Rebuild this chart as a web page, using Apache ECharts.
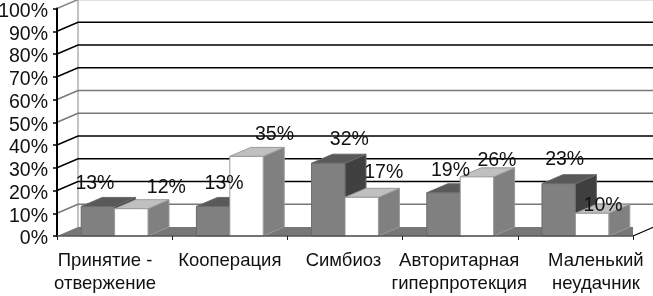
<!DOCTYPE html>
<html><head><meta charset="utf-8">
<style>html,body{margin:0;padding:0;background:#fff}#c{width:653px;height:296px}</style>
<script src="https://cdn.jsdelivr.net/npm/echarts@6/dist/echarts.min.js"></script>
</head><body><div id="c"></div>
<script>
const categories = ['Принятие -\nотвержение','Кооперация','Симбиоз','Авторитарная\nгиперпротекция','Маленький\nнеудачник'];
const seriesDark = [13,13,32,19,23];
const seriesLight = [12,35,17,26,10];
const yTicks = [0,10,20,30,40,50,60,70,80,90,100];
const gridColors = ['#777','#777','#000','#000','#000','#777','#777','#000','#000','#000','#888'];
// hand placement of the value labels relative to each box's top centre
const darkNudge = [[-3,-23],[11,-23],[21,-24],[7,-22],[6,-24]];
const lightNudge = [[35,-21],[28,-22],[22,-25],[20,-16],[11,-8]];
const labelPad = [[0,19,0,0],[0,0,0,0],[0,3,0,0],[0,2,0,0],[0,0,0,41]];

const DX = 21, DY = 9, FONT = 'Liberation Sans, Arial, sans-serif';

function frame(params, api){
  const v = api.value(0), i = params.dataIndex, cs = params.coordSys;
  const y = api.coord([0, v])[1], x0 = cs.x, x1 = cs.x + cs.width;
  const col = gridColors[i], kids = [];
  if (v === 0) {
    kids.push({type:'polygon', shape:{points:[[x0,y],[x0+DX,y-DY],[x1,y-DY],[x1,y]]}, style:{fill:'#777'}});
    kids.push({type:'polygon', shape:{points:[[x1,y],[x1,y-DY],[x1+DX,y-DY]]}, style:{fill:'#fff'}});
    kids.push({type:'line', shape:{x1:x1,y1:y,x2:x1+DX,y2:y-DY}, style:{stroke:'#000',lineWidth:1.2}});
    kids.push({type:'line', shape:{x1:x0+DX,y1:y-DY,x2:x0+DX,y2:cs.y-DY}, style:{stroke:'#888',lineWidth:1}});
  } else {
    kids.push({type:'polyline', shape:{points:[[x0,y],[x0+DX,y-DY],[x1+DX,y-DY]]}, style:{fill:null,stroke:col,lineWidth:1.5}});
  }
  return {type:'group', children:kids};
}
function box(side, colors){
  return function(params, api){
    const c = api.coord([api.value(0), api.value(1)]), base = api.coord([api.value(0), 0]);
    const w = api.size([1,0])[0]*0.29;
    const l = side < 0 ? c[0]-w : c[0], r = l+w, t = c[1], b = base[1];
    const edge = {stroke:colors[3],lineWidth:1};
    return {type:'group', children:[
      {type:'polygon', shape:{points:[[r,b],[r+DX,b-DY],[r+DX,t-DY],[r,t]]}, style:Object.assign({fill:colors[2]},edge)},
      {type:'polygon', shape:{points:[[l,t],[l+DX,t-DY],[r+DX,t-DY],[r,t]]}, style:Object.assign({fill:colors[1]},edge)},
      {type:'rect', shape:{x:l,y:t,width:w,height:b-t}, style:Object.assign({fill:colors[0]},edge)}
    ]};
  };
}
function valueLabel(params, api){
  const i = api.value(0), v = api.value(1), n = api.value(2), s = api.value(3);
  const c = api.coord([i, v]), w = api.size([1,0])[0]*0.29;
  const cx = c[0] + s*w/2, nudge = (s<0?darkNudge:lightNudge)[n];
  return {type:'text', style:{x:cx+nudge[0], y:c[1]+nudge[1], text:v+'%', align:'center', verticalAlign:'middle',
    font:'19.5px '+FONT, fill:'#111'}};
}
const labelData = [];
seriesDark.forEach((v,i)=>labelData.push([i,v,i,-1]));
seriesLight.forEach((v,i)=>labelData.push([i,v,i,1]));

const chart = echarts.init(document.getElementById('c'), null, {renderer:'canvas'});
chart.setOption({
  animation:false,
  backgroundColor:'#fff',
  grid:{left:57, right:20, top:8.5, bottom:60, containLabel:false, outerBoundsMode:'none'},
  xAxis:{type:'category', data:categories.map((c,i)=>({value:c, textStyle:{padding:labelPad[i]}})),
    boundaryGap:true,
    axisLine:{show:true,lineStyle:{color:'#555',width:1.5}},
    axisTick:{show:true,alignWithLabel:false,length:4,lineStyle:{color:'#222',width:1}},
    axisLabel:{interval:0,margin:13,fontFamily:FONT,fontSize:18.5,lineHeight:23,color:'#111',hideOverlap:false},
    z:5},
  yAxis:{type:'value', min:0, max:100, interval:10,
    splitLine:{show:false},
    axisLine:{show:true,lineStyle:{color:'#000',width:2}},
    axisTick:{show:true,length:4,lineStyle:{color:'#000',width:1.5}},
    axisLabel:{formatter:'{value}%',margin:9,verticalAlign:'top',lineHeight:6,fontFamily:FONT,fontSize:19.5,color:'#111'},
    z:5},
  series:[
    {type:'custom', name:'frame', clip:false, z:1, silent:true, renderItem:frame, encode:{y:0}, data:yTicks.map(v=>[v])},
    {type:'custom', name:'dark', clip:false, z:2, renderItem:box(-1,['#808080','#595959','#404040','#6a6a6a']),
      encode:{x:0,y:1}, data:seriesDark.map((v,i)=>[i,v])},
    {type:'custom', name:'light', clip:false, z:3, renderItem:box(1,['#ffffff','#c0c0c0','#808080','#999999']),
      encode:{x:0,y:1}, data:seriesLight.map((v,i)=>[i,v])},
    {type:'custom', name:'labels', clip:false, z:6, renderItem:valueLabel, encode:{x:0,y:1}, data:labelData}
  ]
});
</script></body></html>
